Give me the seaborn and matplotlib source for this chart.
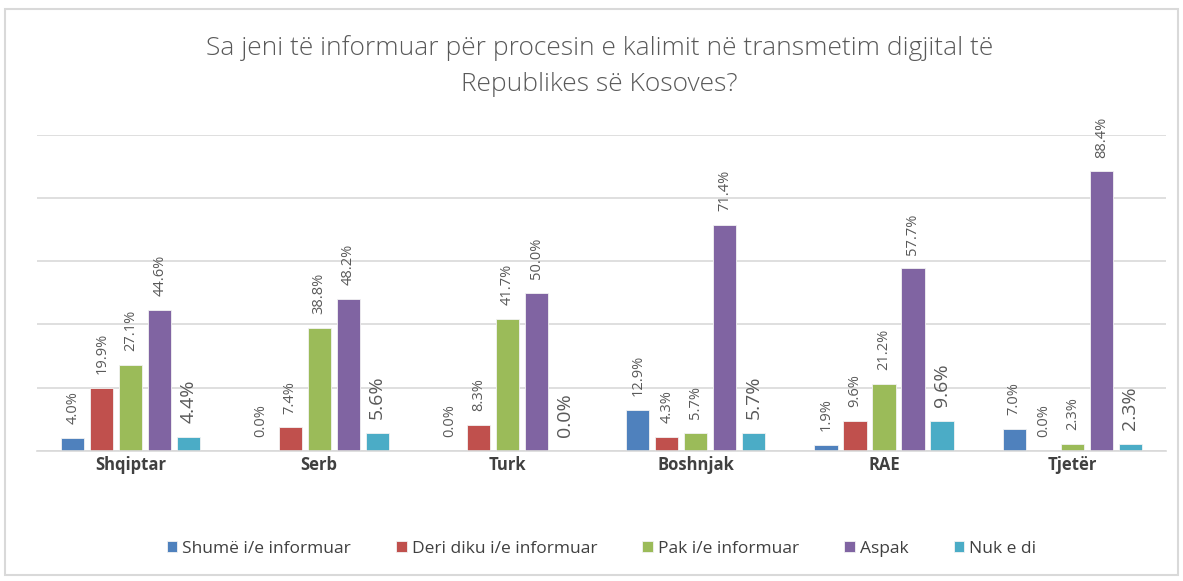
import pandas as pd
import numpy as np
import matplotlib.pyplot as plt
import seaborn as sns
from matplotlib.patches import Rectangle

groups = ['Shqiptar', 'Serb', 'Turk', 'Boshnjak', 'RAE', 'Tjetër']
series = ['Shumë i/e informuar', 'Deri diku i/e informuar', 'Pak i/e informuar', 'Aspak', 'Nuk e di']
shume = [4.0, 0.0, 0.0, 12.9, 1.9, 7.0]
deri_diku = [19.9, 7.4, 8.3, 4.3, 9.6, 0.0]
pak = [27.1, 38.8, 41.7, 5.7, 21.2, 2.3]
aspak = [44.6, 48.2, 50.0, 71.4, 57.7, 88.4]
nuk_e_di = [4.4, 5.6, 0.0, 5.7, 9.6, 2.3]
colors = ['#4F81BD', '#C0504D', '#9BBB59', '#8064A2', '#4BACC6']

title = 'Sa jeni të informuar për procesin e kalimit në transmetim digjital të\nRepublikes së Kosoves?'

wide = pd.DataFrame({'group': groups, series[0]: shume, series[1]: deri_diku,
                     series[2]: pak, series[3]: aspak, series[4]: nuk_e_di})
df = wide.melt(id_vars='group', var_name='series', value_name='value')

sns.set_style('white')
plt.rcParams['font.family'] = ['Open Sans', 'DejaVu Sans']

fig = plt.figure(figsize=(11.83, 5.81), dpi=100)
ax = fig.add_axes([0.031, 0.224, 0.955, 0.544])

sns.barplot(data=df, x='group', y='value', hue='series', hue_order=series,
            palette=colors, saturation=1, width=0.77, gap=0.2, ax=ax, legend=True,
            edgecolor='#F2F2F2', linewidth=0.6)

ax.set_ylim(0, 100)
ax.set_yticks(np.arange(0, 101, 20))
ax.yaxis.grid(True, color='#D9D9D9', linewidth=1.2)
ax.set_axisbelow(True)
ax.set_yticklabels([])
ax.tick_params(axis='both', length=0)
ax.set_xlabel('')
ax.set_ylabel('')
for s in ['top', 'right', 'left']:
    ax.spines[s].set_visible(False)
ax.spines['bottom'].set_color('#D9D9D9')
ax.spines['bottom'].set_linewidth(1.2)
ax.set_xlim(-0.5, len(groups) - 0.5)

for lbl in ax.get_xticklabels():
    lbl.set_fontweight('bold')
    lbl.set_fontsize(12)
    lbl.set_color('#404040')
ax.tick_params(axis='x', pad=4)

for i, cont in enumerate(ax.containers):
    fs = 14 if i == 4 else 10.5
    ax.bar_label(cont, fmt='%.1f%%', rotation=90, padding=10,
                 fontsize=fs, color='#595959')

ax.legend(loc='upper center', bbox_to_anchor=(0.5, -0.235), ncol=5, frameon=False,
          fontsize=12.5, handlelength=0.6, handleheight=0.6, handletextpad=0.3,
          columnspacing=2.6, labelcolor='#404040')

fig.text(0.507, 0.94, title, ha='center', va='top', fontsize=19,
         color='#595959', fontweight='light', linespacing=1.6)

fig.patches.append(Rectangle((0.004, 0.01), 0.992, 0.975, transform=fig.transFigure,
                             fill=False, edgecolor='#D9D9D9', linewidth=1.5))

fig.savefig('out.png', dpi=100)
